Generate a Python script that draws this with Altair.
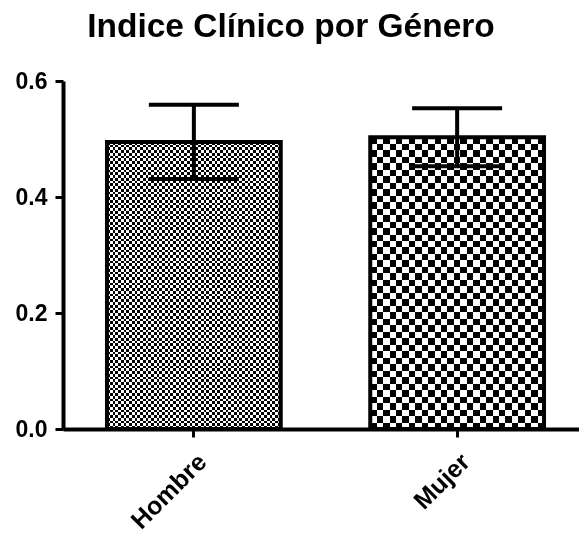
import altair as alt
import pandas as pd

# Mean clinical index per gender with its error
generos = ["Hombre", "Mujer"]
medias = [0.495, 0.503]
errores = [0.064, 0.050]

df = pd.DataFrame({"genero": generos, "media": medias, "error": errores})

FONT = "Liberation Sans"
W, H = 516, 348
Y_MAX = 0.6
PAD_IN, PAD_OUT, ALIGN = 0.34, 0.15, 0.557

# pixel size of the bands and of the y unit, used to size the checker textures
step = W / (len(generos) - PAD_IN + 2 * PAD_OUT)
band_px = step * (1 - PAD_IN)
px_per_unit = H / Y_MAX

# checker cell size (px) of each bar's texture
cell = {"Hombre": 2.75, "Mujer": 6.5}


def stripes(n, vertical):
    stops = []
    for i in range(n):
        c = "black" if i % 2 == 0 else "white"
        stops.append(alt.GradientStop(offset=i / n, color=c))
        stops.append(alt.GradientStop(offset=(i + 1) / n, color=c))
    if vertical:
        return alt.LinearGradient(gradient="linear", stops=stops, x1=0, x2=1, y1=0, y2=0)
    return alt.LinearGradient(gradient="linear", stops=stops, x1=0, x2=0, y1=0, y2=1)


x_enc = alt.X(
    "genero:N",
    sort=generos,
    scale=alt.Scale(paddingInner=PAD_IN, paddingOuter=PAD_OUT, align=ALIGN),
    axis=alt.Axis(labelAngle=-45, title=None, labelAlign="right", labelBaseline="top",
                  labelPadding=12, labelFontSize=25),
)
y_enc = alt.Y(
    "media:Q",
    scale=alt.Scale(domain=[0, Y_MAX], nice=False, zero=True),
    axis=alt.Axis(values=[0, 0.2, 0.4, 0.6], format=".1f", title=None, labelPadding=8,
                  labelFontSize=23),
)

base = alt.Chart(df).encode(x=x_enc, y=y_enc)

layers = []
for g, m in zip(generos, medias):
    nx = max(1, round(band_px / cell[g]))
    ny = max(1, round(m * px_per_unit / cell[g]))
    sel = base.transform_filter(alt.datum.genero == g)
    # vertical stripes, then horizontal stripes blended by difference -> checker
    layers.append(sel.mark_bar(color=stripes(nx, True), strokeWidth=0))
    layers.append(sel.mark_bar(color=stripes(ny, False), strokeWidth=0, blend="difference"))

outline = base.mark_bar(fillOpacity=0, stroke="black", strokeWidth=4, strokeJoin="miter")

err = alt.Chart(df).transform_calculate(
    lo="datum.media - datum.error", hi="datum.media + datum.error"
)
stem = err.mark_rule(color="black", strokeWidth=4, opacity=1).encode(
    x=alt.X("genero:N", sort=generos), y="lo:Q", y2="hi:Q"
)
cap_hi = err.mark_tick(color="black", size=90, thickness=4, opacity=1).encode(
    x=alt.X("genero:N", sort=generos), y="hi:Q"
)
cap_lo = err.mark_tick(color="black", size=90, thickness=4, opacity=1).encode(
    x=alt.X("genero:N", sort=generos), y="lo:Q"
)

chart = (
    alt.layer(*layers, outline, stem, cap_hi, cap_lo)
    .properties(
        width=W,
        height=H,
        autosize="none",
        padding={"left": 63, "top": 81, "right": 0, "bottom": 104},
        title=alt.TitleParams(
            "Indice Clínico por Género",
            font=FONT,
            fontSize=33.5,
            fontWeight="bold",
            color="black",
            anchor="middle",
            dx=-30,
            offset=26,
        ),
    )
    .configure_view(stroke=None)
    .configure_axis(
        domainColor="black",
        domainWidth=4,
        tickColor="black",
        tickWidth=3,
        tickSize=8,
        labelFont=FONT,
        labelFontWeight="bold",
        labelColor="black",
        grid=False,
    )
)

chart.save("out.html", embed_options={"renderer": "svg", "actions": False})
